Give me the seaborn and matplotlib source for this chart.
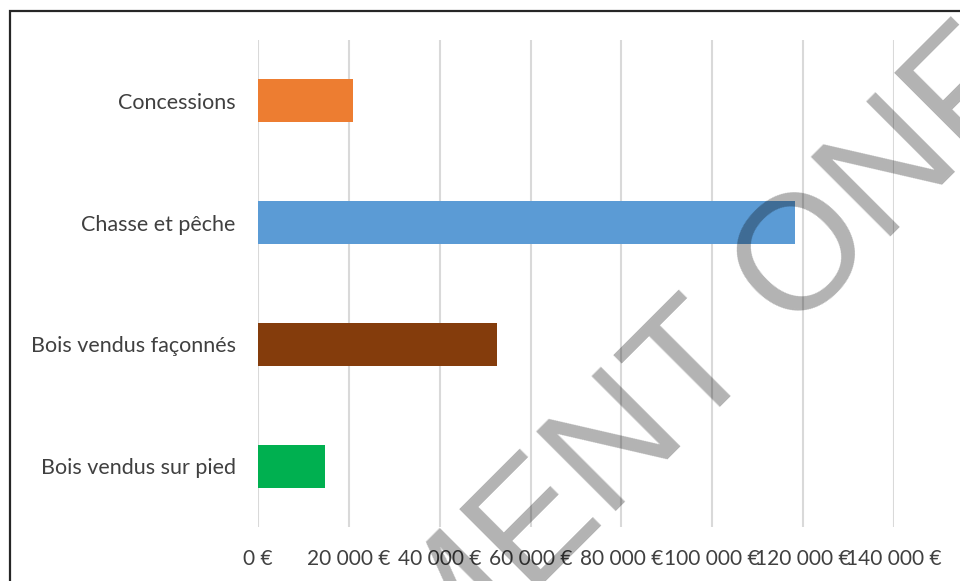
import matplotlib
matplotlib.use("Agg")
import matplotlib.pyplot as plt
import matplotlib.patches as mpatches
import seaborn as sns
import pandas as pd

categories = ["Concessions", "Chasse et pêche", "Bois vendus façonnés", "Bois vendus sur pied"]
values = [20900, 118300, 52600, 14800]
colors = ["#ED7D31", "#5B9BD5", "#843C0C", "#00B050"]
tick_values = [0, 20000, 40000, 60000, 80000, 100000, 120000, 140000]
tick_labels = ["0 €", "20 000 €", "40 000 €", "60 000 €", "80 000 €", "100 000 €", "120 000 €", "140 000 €"]
watermark = "DOCUMENT ONF"

sns.set_theme(style="white")
plt.rcParams["font.family"] = ["Lato", "DejaVu Sans"]

df = pd.DataFrame({"cat": categories, "val": values})

fig = plt.figure(figsize=(9.6, 5.81), dpi=100)
ax = fig.add_axes([258 / 960, 1 - 527 / 581, (894 - 258) / 960, (527 - 40) / 581])

sns.barplot(data=df, y="cat", x="val", hue="cat", palette=colors, order=categories,
            hue_order=categories, orient="h", width=0.355, legend=False, ax=ax,
            saturation=1, linewidth=0)

ax.set_xlim(0, 140000)
ax.set_ylim(3.5, -0.5)
ax.set_xticks(tick_values)
ax.set_xticklabels(tick_labels)
ax.xaxis.grid(True, color="#d9d9d9", linewidth=1.5)
ax.yaxis.grid(False)
ax.set_axisbelow(True)
for s in ax.spines.values():
    s.set_visible(False)
ax.set_xlabel("")
ax.set_ylabel("")
ax.tick_params(axis="x", length=0, pad=16, labelsize=15, labelcolor="#404040")
ax.tick_params(axis="y", length=0, pad=16, labelsize=15.5, labelcolor="#404040")

# outer frame
frame = mpatches.Rectangle((9.5 / 960, -0.2), 1.3, 1 - 10.5 / 581 + 0.2,
                           transform=fig.transFigure, fill=False,
                           edgecolor="#262626", linewidth=1.6, clip_on=False)
fig.patches.append(frame)

# watermark
fig.text(92 / 960, 1 - 1036 / 581, watermark, family="Liberation Sans",
         fontsize=118, color="black", alpha=0.3, rotation=45,
         rotation_mode="anchor", ha="left", va="baseline", zorder=10)

fig.savefig("out.png", dpi=100)
